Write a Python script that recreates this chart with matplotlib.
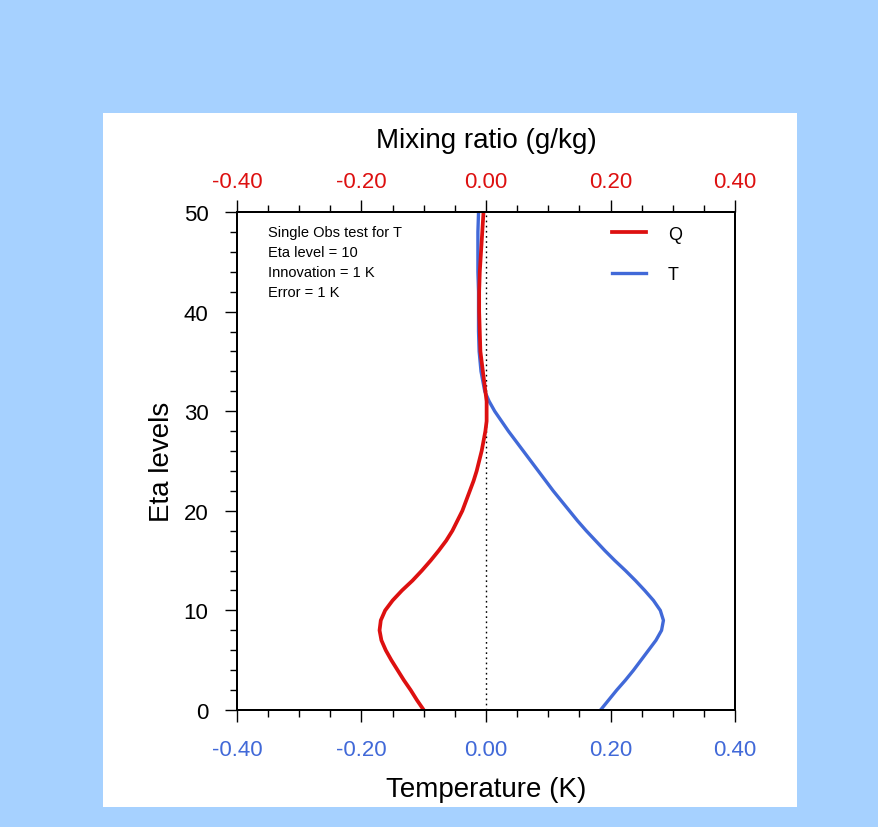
import numpy as np
import matplotlib
matplotlib.use("Agg")
import matplotlib.pyplot as plt
from matplotlib.patches import Rectangle

plt.rcParams['font.family'] = ['Liberation Sans', 'DejaVu Sans']

# eta levels and profiles
levels = [0, 1, 2, 3, 4, 5, 6, 7, 8, 9, 10, 11, 12, 13, 14, 15, 16, 17, 18, 19,
          20, 21, 22, 23, 24, 25, 26, 27, 28, 29, 30, 31, 32, 34, 36, 38, 40,
          42, 44, 46, 48, 50]
q_incr = [-0.100, -0.111, -0.121, -0.132, -0.142, -0.152, -0.161, -0.168,
          -0.171, -0.169, -0.162, -0.150, -0.135, -0.118, -0.103, -0.089,
          -0.076, -0.064, -0.054, -0.046, -0.038, -0.032, -0.026, -0.020,
          -0.015, -0.011, -0.007, -0.004, -0.001, 0.001, 0.001, 0.001,
          -0.001, -0.005, -0.009, -0.010, -0.011, -0.011, -0.010, -0.008,
          -0.006, -0.004]
t_incr = [0.184, 0.197, 0.210, 0.224, 0.237, 0.249, 0.261, 0.273, 0.282,
          0.285, 0.280, 0.269, 0.255, 0.240, 0.224, 0.207, 0.191, 0.176,
          0.161, 0.147, 0.134, 0.121, 0.108, 0.096, 0.084, 0.072, 0.060,
          0.048, 0.036, 0.025, 0.014, 0.005, -0.002, -0.008, -0.011, -0.012,
          -0.012, -0.012, -0.013, -0.013, -0.013, -0.012]

x_ticks = [-0.4, -0.2, 0.0, 0.2, 0.4]
y_ticks = [0, 10, 20, 30, 40, 50]
info_lines = ["Single Obs test for T", "Eta level = 10",
              "Innovation = 1 K", "Error = 1 K"]

red = '#DD1010'
blue = '#4169D8'

fig = plt.figure(figsize=(8.79, 8.28), dpi=100)
fig.patch.set_facecolor('#A6D1FF')
# white panel behind the plot
fig.patches.append(Rectangle((0.1172, 0.0242), 0.7895, 0.8382,
                             transform=fig.transFigure, facecolor='white',
                             edgecolor='none', zorder=-10))

ax = fig.add_axes([0.2696, 0.1413, 0.5666, 0.6014])
ax.set_xlim(-0.4, 0.4)
ax.set_ylim(0, 50)

ax.plot([0, 0], [0, 50], color='black', linestyle=(0, (1.2, 2.5)),
        linewidth=1.0)
lt, = ax.plot(t_incr, levels, color=blue, linewidth=2.4, label='T')
lq, = ax.plot(q_incr, levels, color=red, linewidth=2.7, label='Q')

ax.set_xticks(x_ticks)
ax.set_xticklabels(['%.2f' % v for v in x_ticks])
ax.set_xticks(np.arange(-0.4, 0.401, 0.05), minor=True)
ax.set_yticks(y_ticks)
ax.set_yticks(np.arange(0, 51, 2), minor=True)
ax.tick_params(which='major', direction='out', length=8.6, width=1.0,
               labelsize=16, pad=12)
ax.tick_params(which='minor', direction='out', length=5, width=1.0)
ax.tick_params(axis='x', labelcolor=blue)
ax.tick_params(top=False, right=False, which='both')
for s in ax.spines.values():
    s.set_linewidth(1.4)

ax.set_xlabel('Temperature (K)', fontsize=20, labelpad=12)
ax.set_ylabel('Eta levels', fontsize=20, labelpad=6)

ax2 = ax.twiny()
ax2.set_xlim(-0.4, 0.4)
ax2.set_xticks(x_ticks)
ax2.set_xticklabels(['%.2f' % v for v in x_ticks])
ax2.set_xticks(np.arange(-0.4, 0.401, 0.05), minor=True)
ax2.tick_params(which='major', direction='out', length=8.6, width=1.0,
                labelsize=16, pad=6, labelcolor=red)
ax2.tick_params(which='minor', direction='out', length=5, width=1.0)
ax2.set_xlabel('Mixing ratio (g/kg)', fontsize=20, labelpad=17)
for s in ax2.spines.values():
    s.set_linewidth(1.4)

for i, line in enumerate(info_lines):
    ax.text(0.062, 0.960 - i * 0.0405, line, transform=ax.transAxes,
            fontsize=10.5, va='center', ha='left')

ax.legend([lq, lt], ['Q', 'T'], loc='upper left',
          bbox_to_anchor=(0.72, 1.005), frameon=False, fontsize=13,
          handlelength=1.9, handletextpad=1.2, labelspacing=1.3)

fig.savefig('out.png', dpi=100, facecolor=fig.get_facecolor())
